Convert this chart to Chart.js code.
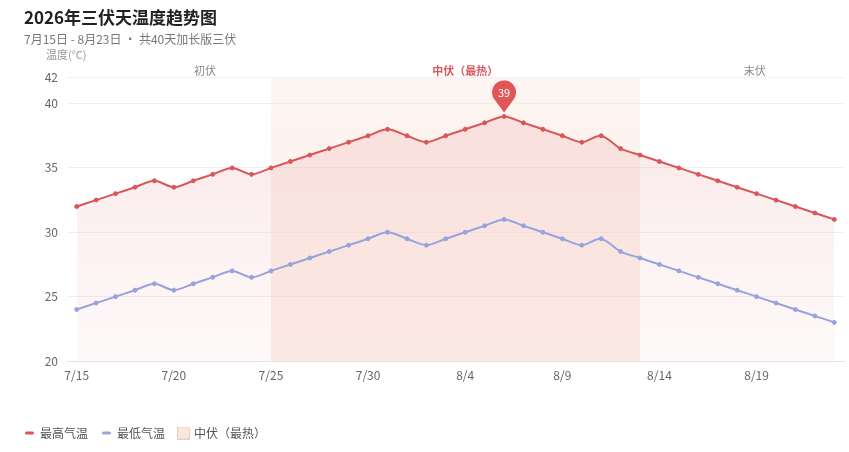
<!DOCTYPE html>
<html>
<head>
<meta charset="utf-8">
<script src="https://cdn.jsdelivr.net/npm/chart.js@4.4.1/dist/chart.umd.min.js"></script>
<style>
html,body{margin:0;padding:0;background:#ffffff;}
#wrap{width:849px;height:452px;position:relative;}
</style>
</head>
<body>
<div id="wrap"><canvas id="c" width="849" height="452"></canvas></div>
<script>
// ---- data ----
const dates = ['7/15','7/16','7/17','7/18','7/19','7/20','7/21','7/22','7/23','7/24',
               '7/25','7/26','7/27','7/28','7/29','7/30','7/31','8/1','8/2','8/3',
               '8/4','8/5','8/6','8/7','8/8','8/9','8/10','8/11','8/12','8/13',
               '8/14','8/15','8/16','8/17','8/18','8/19','8/20','8/21','8/22','8/23'];
const highTemps = [32,32.5,33,33.5,34,33.5,34,34.5,35,34.5,
                   35,35.5,36,36.5,37,37.5,38,37.5,37,37.5,
                   38,38.5,39,38.5,38,37.5,37,37.5,36.5,36,
                   35.5,35,34.5,34,33.5,33,32.5,32,31.5,31];
const lowTemps  = [24,24.5,25,25.5,26,25.5,26,26.5,27,26.5,
                   27,27.5,28,28.5,29,29.5,30,29.5,29,29.5,
                   30,30.5,31,30.5,30,29.5,29,29.5,28.5,28,
                   27.5,27,26.5,26,25.5,25,24.5,24,23.5,23];
const yTicks = [20,25,30,35,40,42];
const xTickLabels = ['7/15','7/20','7/25','7/30','8/4','8/9','8/14','8/19'];
const midFuRange = ['7/25','8/13'];
const phaseNames = ['初伏','中伏（最热）','末伏'];
const phaseAt = [6.6, 20, 34.9];   // category positions of phase captions
const seriesNames = ['最高气温','最低气温','中伏（最热）'];
const yAxisName = '温度(°C)';

// band dataset built from the mid-fu range
const i0 = dates.indexOf(midFuRange[0]), i1 = dates.indexOf(midFuRange[1]);
const bandData = dates.map((d, i) => (i >= i0 && i <= i1) ? 42 : null);

const FONT = "'Noto Sans CJK SC', 'Noto Sans', sans-serif";
Chart.defaults.font.family = FONT;

const RED = '#d9565b';
const BLUE = '#98a3dd';

function redFill(c) {
  const a = c.chart.chartArea;
  if (!a) return 'rgba(226,110,110,0.1)';
  const g = c.chart.ctx.createLinearGradient(0, a.top, 0, a.bottom);
  g.addColorStop(0, 'rgba(228,110,110,0.17)');
  g.addColorStop(1, 'rgba(228,110,110,0.04)');
  return g;
}
function bandFill(c) {
  const a = c.chart.chartArea;
  if (!a) return 'rgba(247,212,196,0.3)';
  const g = c.chart.ctx.createLinearGradient(0, a.top, 0, a.bottom);
  g.addColorStop(0, 'rgba(248,222,208,0.3)');
  g.addColorStop(1, 'rgba(246,210,194,0.38)');
  return g;
}

// legend icons
function lineIcon(color) {
  const cv = document.createElement('canvas');
  cv.width = 9; cv.height = 4;
  const x = cv.getContext('2d');
  x.fillStyle = color;
  x.beginPath();
  x.moveTo(1.5, 0.5); x.lineTo(7.5, 0.5); x.arc(7.5, 2, 1.5, -Math.PI/2, Math.PI/2);
  x.lineTo(1.5, 3.5); x.arc(1.5, 2, 1.5, Math.PI/2, Math.PI*1.5); x.closePath(); x.fill();
  return cv;
}
function boxIcon() {
  const cv = document.createElement('canvas');
  cv.width = 13; cv.height = 13;
  const x = cv.getContext('2d');
  x.fillStyle = 'rgba(250,226,214,0.85)';
  x.fillRect(0, 0, 13, 13);
  x.strokeStyle = '#e8bdac';
  x.setLineDash([2, 1.5]);
  x.lineWidth = 1;
  x.strokeRect(0.5, 0.5, 12, 12);
  return cv;
}
const icons = [lineIcon(RED), lineIcon(BLUE), boxIcon()];

const extras = {
  id: 'extras',
  afterLayout(chart) {
    chart.legend.left -= 13;
    chart.legend.right -= 13;
  },
  afterDatasetsDraw(chart) {
    const {ctx, chartArea} = chart;
    const xs = chart.scales.x, ys = chart.scales.y;
    ctx.save();
    // phase captions
    ctx.textAlign = 'center';
    ctx.textBaseline = 'middle';
    phaseNames.forEach((t, i) => {
      const mid = i === 1;
      ctx.font = (mid ? 'bold ' : '') + '11px ' + FONT;
      ctx.fillStyle = mid ? '#d9565b' : '#8a8a8a';
      ctx.fillText(t, xs.getPixelForValue(phaseAt[i]), chartArea.top - 7);
    });
    // y axis name
    ctx.textAlign = 'left';
    ctx.font = '11px ' + FONT;
    ctx.fillStyle = '#9a9a9a';
    ctx.fillText(yAxisName, 46, 55);
    // pin on the hottest day
    let mi = 0;
    highTemps.forEach((v, i) => { if (v > highTemps[mi]) mi = i; });
    const px = xs.getPixelForValue(mi), py = ys.getPixelForValue(highTemps[mi]);
    const r = 12, cy = py - 24, tipY = py - 4;
    const d = tipY - cy;
    const th = Math.acos(r / d);
    const alpha = Math.PI / 2 - th;
    ctx.fillStyle = '#e05656';
    ctx.beginPath();
    ctx.moveTo(px, tipY);
    ctx.lineTo(px - r * Math.sin(th), cy + r * Math.cos(th));
    ctx.arc(px, cy, r, Math.PI - alpha, 2 * Math.PI + alpha, false);
    ctx.closePath();
    ctx.fill();
    ctx.fillStyle = '#ffffff';
    ctx.textAlign = 'center';
    ctx.font = '11px ' + FONT;
    ctx.fillText(String(highTemps[mi]), px, cy);
    ctx.restore();
  }
};

new Chart(document.getElementById('c'), {
  type: 'line',
  data: {
    labels: dates,
    datasets: [
      {
        label: seriesNames[0], data: highTemps, order: 1,
        borderColor: RED, backgroundColor: redFill, fill: 'start',
        borderWidth: 2, tension: 0.3,
        pointRadius: 2, pointBackgroundColor: RED, pointBorderColor: RED, pointBorderWidth: 1
      },
      {
        label: seriesNames[1], data: lowTemps, order: 2,
        borderColor: BLUE, backgroundColor: 'rgba(0,0,0,0)', fill: false,
        borderWidth: 2, tension: 0.3,
        pointRadius: 2, pointBackgroundColor: BLUE, pointBorderColor: BLUE, pointBorderWidth: 1
      },
      {
        label: seriesNames[2], data: bandData, order: 3,
        borderWidth: 0, borderColor: 'rgba(0,0,0,0)', backgroundColor: bandFill,
        fill: 'start', pointRadius: 0, tension: 0, spanGaps: false
      }
    ]
  },
  options: {
    responsive: false,
    animation: false,
    layout: { padding: { left: 24, right: 1, top: 0, bottom: 3 } },
    plugins: {
      filler: { drawTime: 'beforeDatasetsDraw' },
      tooltip: { enabled: false },
      title: {
        display: true, text: '2026年三伏天温度趋势图', align: 'start', color: '#222',
        font: { size: 17, weight: 'bold', family: FONT }, padding: { top: 7, bottom: 3 }
      },
      subtitle: {
        display: true, text: '7月15日 - 8月23日 · 共40天加长版三伏', align: 'start', color: '#777',
        font: { size: 12, family: FONT }, padding: { top: 2, bottom: 31 }
      },
      legend: {
        position: 'bottom', align: 'start',
        labels: {
          usePointStyle: true, pointStyleWidth: 9, boxHeight: 12,
          padding: 14, color: '#555', font: { size: 12, family: FONT },
          generateLabels(chart) {
            return seriesNames.map((t, i) => ({
              text: t, datasetIndex: i, hidden: false, pointStyle: icons[i],
              fillStyle: 'transparent', strokeStyle: 'transparent', lineWidth: 0, fontColor: '#555'
            }));
          }
        }
      }
    },
    scales: {
      x: {
        type: 'category', offset: true,
        grid: { display: false, drawTicks: false },
        border: { display: true, color: '#e3e3e3' },
        ticks: {
          autoSkip: false, maxRotation: 0, minRotation: 0, padding: 7,
          color: '#666', font: { size: 12, family: FONT },
          callback(v, i) { const l = dates[i]; return xTickLabels.includes(l) ? l : ''; }
        },
        afterFit(s) { s.height = 52; }
      },
      y: {
        min: 20, max: 42,
        afterBuildTicks(s) { s.ticks = yTicks.map(v => ({ value: v })); },
        grid: { color: '#f0f0f0', drawTicks: false },
        border: { display: false },
        ticks: { color: '#666', padding: 9, font: { size: 12, family: FONT } },
        afterFit(s) { s.width = 43; }
      }
    }
  },
  plugins: [extras]
});
</script>
</body>
</html>
